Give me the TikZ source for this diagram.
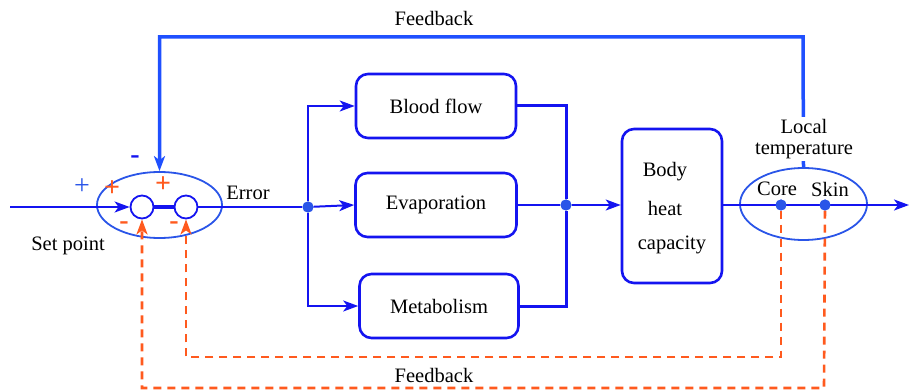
\documentclass[tikz,border=0pt]{standalone}
\usepackage{fontspec}
\setmainfont{Liberation Serif}
\usetikzlibrary{arrows.meta,shapes.geometric}
\definecolor{bl}{HTML}{1414F0}
\definecolor{fb}{HTML}{1F50FF}
\definecolor{el}{HTML}{2A55E8}
\definecolor{or}{HTML}{FF5A1E}
\tikzset{
  txt/.style={font=\fontsize{20.5}{25}\selectfont, inner sep=1pt},
  blk/.style={txt, draw=bl, line width=2.6pt, rounded corners=12pt, fill=white},
  ell/.style={draw=el, line width=1.8pt, ellipse},
  sumc/.style={circle, draw=bl, line width=1.8pt, fill=white, minimum size=23pt, inner sep=0pt},
  dotn/.style={circle, fill=el, minimum size=11pt, inner sep=0pt},
  arr/.style={-{Stealth[length=15pt,width=11pt,inset=4pt]}},
  ln/.style={bl, line width=2pt},
  thk/.style={bl, line width=3pt},
  dsh/.style={or, line width=2.6pt, dash pattern=on 8pt off 6pt},
  sgn/.style={font=\fontsize{28}{28}\selectfont, inner sep=0pt}
}
\begin{document}
\begin{tikzpicture}[x=1pt,y=-1pt]
\useasboundingbox (0,0) rectangle (910,390);
% ellipses
\node[ell, minimum width=125pt, minimum height=66pt] (e1) at (159.5,205) {};
\node[ell, minimum width=127pt, minimum height=72pt] (e2) at (803.5,204) {};
% blocks
\node[blk, minimum width=160pt, minimum height=64pt] (bf) at (436,106) {Blood flow};
\node[blk, minimum width=161pt, minimum height=64pt] (ev) at (436,205) {Evaporation};
\node[blk, minimum width=159pt, minimum height=64pt] (mb) at (439,306) {Metabolism};
\node[blk, minimum width=100pt, minimum height=154pt] (bhc) at (672,206) {};
\node[txt] (t1) at (665,172) {Body};
\node[txt] (t2) at (665,208) {heat};
\node[txt] (t3) at (672,245) {capacity};
% summing circles
\node[sumc] (c1) at (142,207) {};
\node[sumc] (c2) at (186,207) {};
% points
\coordinate (in) at (10,207);
\node[dotn] (s) at (308,207) {};
\node[dotn] (m) at (566,205) {};
\node[dotn] (core) at (781,205) {};
\node[dotn] (skin) at (825,205) {};
\coordinate (out) at (909,205);
\coordinate (tr) at (803,37);
\coordinate (d1) at (781,357);
\coordinate (d2) at (824,388);
% main path
\draw[ln, arr] (in) -- (c1.west);
\draw[bl, line width=4pt] (c1.east) -- (c2.west);
\draw[ln] (c2.east) -- (s);
\draw[ln, arr] (s) |- (bf.west);
\draw[ln, arr] (s) -- (ev.west);
\draw[ln, arr] (s) |- (mb.west);
\draw[thk] (bf.east) -| (m);
\draw[thk] (mb.east) -| (m);
\draw[ln] (ev.east) -- (m);
\draw[ln, arr] (m) -- (bhc.west |- m);
\draw[ln, arr] (bhc.east |- out) -- (out);
% feedback top
\draw[fb, line width=3.5pt, arr] (e2.north) -- (tr) -| (e1.north);
\node[txt, fill=white, align=center, inner sep=2pt] (lt) at (804,139) {Local\\[-4pt]temperature};
% dashed feedback
\draw[dsh, arr] (core) -- (d1) -| (c2.south);
\draw[dsh, arr] (skin) -- (d2) -| (c1.south);
% dots on top
\node[dotn] at (s) {};
\node[dotn] at (m) {};
\node[dotn] at (core) {};
\node[dotn] at (skin) {};
% labels
\node[txt] (fbt) at (434,18) {Feedback};
\node[txt] (fbb) at (434,375) {Feedback};
\node[txt] (err) at (248,193) {Error};
\node[txt] (sp) at (68,246) {Set point};
\node[txt] (cl) at (777,189) {Core};
\node[txt] (sl) at (830,189) {Skin};
\node[sgn, text=el] (p0) at (82,187) {+};
\node[sgn, text=or] (p1) at (112,189) {\textbf{+}};
\node[sgn, text=or] (p2) at (163,185) {\textbf{+}};
\node[sgn, text=or] (m1) at (124,226) {\textbf{-}};
\node[sgn, text=or] (m2) at (174,226) {\textbf{-}};
\node[sgn, text=bl] (m0) at (135,160) {\textbf{-}};
\end{tikzpicture}
\end{document}
